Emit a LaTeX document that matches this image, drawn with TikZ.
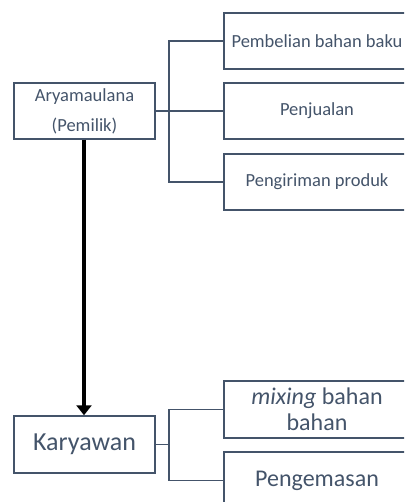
\documentclass[tikz,border=0pt]{standalone}
\usepackage{fontspec}
\setmainfont{Carlito}
\usetikzlibrary{arrows.meta}
\definecolor{slate}{HTML}{44546A}
\tikzset{
  box/.style={draw=slate, line width=1.5pt, text=slate, align=center, inner sep=0pt},
  conn/.style={draw=slate, line width=1.5pt},
  small/.style={font=\fontsize{18.5}{30}\selectfont},
  big/.style={font=\fontsize{24}{26}\selectfont},
  bigger/.style={font=\fontsize{26}{28}\selectfont},
}
\begin{document}
\begin{tikzpicture}[x=1pt,y=-1pt]
\useasboundingbox (0,0) rectangle (404,502);
\clip (0,0) rectangle (404,502);
% owner
\node[box,small,minimum width=141pt,minimum height=56pt] (own) at (84.5,111) {Aryamaulana\\(Pemilik)};
\node[box,small,minimum width=186pt,minimum height=56pt] (b1) at (317,41) {Pembelian bahan baku};
\node[box,small,minimum width=186pt,minimum height=56pt] (b2) at (317,111) {Penjualan};
\node[box,small,minimum width=186pt,minimum height=56pt] (b3) at (317,182) {Pengiriman produk};
\coordinate (j1) at (169,111);
\draw[conn] (own.east) -- (j1);
\draw[conn] (b1.west) -| (j1) |- (b3.west);
\draw[conn] (j1) -- (b2.west);
% employee
\node[box,bigger,minimum width=141pt,minimum height=57pt] (kar) at (84.5,444.5) {Karyawan};
\node[box,big,minimum width=186pt,minimum height=57pt] (m1) at (317,409.5) {\textit{mixing} bahan\\bahan};
\node[box,big,minimum width=186pt,minimum height=57pt] (m2) at (317,480.5) {Pengemasan};
\coordinate (j2) at (169,444.5);
\draw[conn] (kar.east) -- (j2);
\draw[conn] (m1.west) -| (j2) |- (m2.west);
% arrow
\draw[line width=4pt, -{Triangle[length=10pt,width=15pt]}] (own.south -| 84,0) -- (kar.north -| 84,0);
\end{tikzpicture}
\end{document}
